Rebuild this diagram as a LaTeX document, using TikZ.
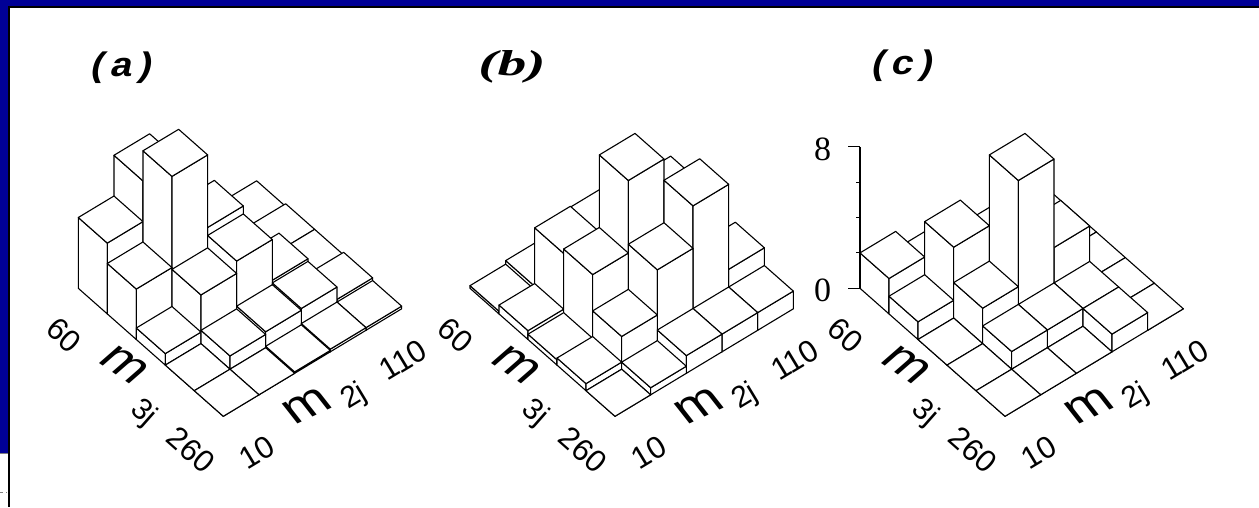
\documentclass[tikz,border=0pt]{standalone}
\usepackage{fontspec}
\setmainfont{Liberation Serif}
\newfontfamily\lblsans{Liberation Sans}
\newfontfamily\lblmono{Liberation Mono}
\newfontfamily\lblserif{Liberation Serif}
\usetikzlibrary{calc}
\definecolor{framebl}{RGB}{0,0,150}
\newcommand\legopanel[2]{%
  \begin{scope}[shift={(#1)}, x={(29pt,-25.6pt)}, y={(35.67pt,21.5pt)}, z={(0pt,17.7pt)}]
    \foreach \i/\j/\h in {#2} {
      \filldraw[barface] (\i,\j,0) -- (\i+1,\j,0) -- (\i+1,\j,\h) -- (\i,\j,\h) -- cycle;
      \filldraw[barface] (\i+1,\j,0) -- (\i+1,\j+1,0) -- (\i+1,\j+1,\h) -- (\i+1,\j,\h) -- cycle;
      \filldraw[barface] (\i,\j,\h) -- (\i,\j+1,\h) -- (\i+1,\j+1,\h) -- (\i+1,\j,\h) -- cycle;
    }
  \end{scope}}
\begin{document}
\begin{tikzpicture}[x=1pt,y=-1pt,
  barface/.style={fill=white,draw=black,line width=1.1pt,line join=round},
  numlbl/.style={inner sep=0pt,font=\lblsans\fontsize{31}{34}\selectfont},
  mlbl/.style={inner sep=0pt,font=\lblsans\fontsize{44}{48}\selectfont,xscale=1.3},
  sublbl/.style={inner sep=0pt,font=\lblsans\fontsize{30}{33}\selectfont},
  titlemono/.style={inner sep=0pt,font=\lblmono\bfseries\itshape\fontsize{34}{38}\selectfont,xscale=1.15},
  titleserif/.style={inner sep=0pt,font=\lblserif\bfseries\itshape\fontsize{36}{40}\selectfont,xscale=1.6},
  axlbl/.style={inner sep=0pt,font=\lblserif\fontsize{34}{38}\selectfont}]
\useasboundingbox (0,0) rectangle (1259,507);
\fill[white] (0,0) rectangle (1259,507);
% frame
\fill[framebl] (0,0) rectangle (1259,6.2);
\fill[framebl] (0,0) rectangle (8,453);
\draw[black,line width=1.6pt] (9,7) -- (1259,7);
\draw[black,line width=2pt] (9,6) -- (9,507);
\draw[gray,line width=0.8pt] (0,453.5) -- (8,453.5);
\draw[gray,dashed,line width=0.8pt] (0,492) -- (7,492);
% panel origins (back-left floor corner)
\coordinate (La) at (78.3,288.3);
\coordinate (Lb) at (470,288.3);
\coordinate (Lc) at (860,288.3);
% panel (a)
\legopanel{La}{0/4/0,0/3/0,0/2/2,0/1/6.3,0/0/4,
  1/4/0.15,1/3/0.2,1/2/3.9,1/1/8,1/0/2.85,
  2/4/0.15,2/3/1.15,2/2/3.45,2/1/2.75,2/0/0.65,
  3/4/0.3,3/3/1.0,3/2/0.9,3/1/0.75,3/0/0,
  4/4/0.15,4/3/0.15,4/2/0.08,4/1/0,4/0/0}
% panel (b)
\legopanel{Lb}{0/4/0,0/3/0.3,0/2/0.5,0/1/0.35,0/0/0.15,
  1/4/0,1/3/1,1/2/3.6,1/1/3.65,1/0/0.5,
  2/4/0.5,2/3/5.5,2/2/8,2/1/3.9,2/0/0.3,
  3/4/2,3/3/6.8,3/2/4.4,3/1/1.85,3/0/0.4,
  4/4/1,4/3/1,4/2/1,4/1/0.4,4/0/0}
% panel (c)
\legopanel{Lc}{0/4/0,0/3/0,0/2/0,0/1/1,0/0/2,
  1/4/0,1/3/0,1/2/2.6,1/1/4,1/0/1,
  2/4/0,2/3/3,2/2/8,2/1/2,2/0/0,
  3/4/0,3/3/1,3/2/1,3/1/1,3/0/0,
  4/4/0,4/3/1,4/2/0,4/1/0,4/0/0}
% vertical axis of (c)
\coordinate (ax8) at ($(Lc)+(0,-141.6)$);
\draw[line width=1.1pt] (Lc) -- (ax8);
\draw[line width=1.1pt] (Lc) -- ++(-12,0);
\draw[line width=1.1pt] (ax8) -- ++(-12,0);
\foreach \k in {2,4,6} \draw[line width=1pt] ($(Lc)+(0,-17.7*\k)$) -- ++(-4,0);
\node[axlbl] (lbl8) at (822.7,149) {8};
\node[axlbl] (lbl0) at (822.7,290) {0};
% titles
\node[titlemono] (ta) at (122,68) {(a)};
\node[titleserif] (tb) at (512,67) {(b)};
\node[titlemono] (tc) at (903,66) {(c)};
% axis labels
\foreach \L in {La,Lb,Lc} {
  \node[numlbl,rotate=-41.4] at ($(\L)+(-14.3,46.7)$) {60};
  \node[mlbl,rotate=-41.4] at ($(\L)+(46.7,76.7)$) {m};
  \node[sublbl,rotate=-41.4] at ($(\L)+(64.7,124.7)$) {3j};
  \node[numlbl,rotate=-41.4] at ($(\L)+(112.7,161.7)$) {260};
  \node[numlbl,rotate=31.1] at ($(\L)+(178.7,163.7)$) {10};
  \node[mlbl,rotate=31.1] at ($(\L)+(228.7,117.7)$) {m};
  \node[sublbl,rotate=31.1] at ($(\L)+(275.7,108.7)$) {2j};
  \node[numlbl,rotate=31.1] at ($(\L)+(324.7,71.7)$) {110};
}
\end{tikzpicture}
\end{document}
